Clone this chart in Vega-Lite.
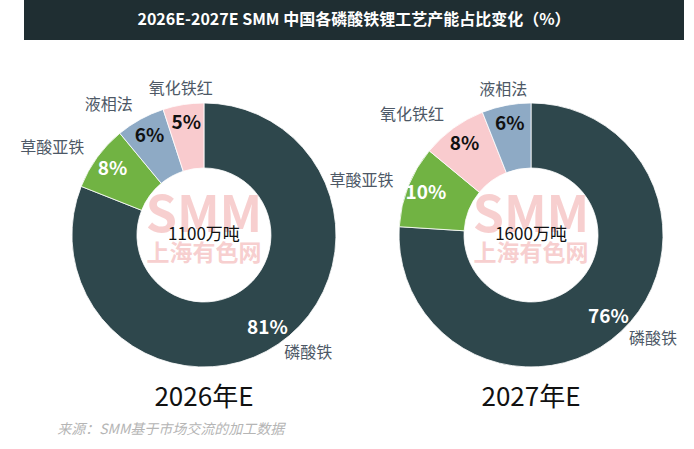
{
  "$schema": "https://vega.github.io/schema/vega-lite/v6.json",
  "background": "#ffffff",
  "padding": {"left": 20, "right": 14, "top": 0, "bottom": 0},
  "spacing": 0,
  "datasets": {
    "shares": [
      {"year": "2026年E", "cat": "磷酸铁", "pct": 81},
      {"year": "2026年E", "cat": "草酸亚铁", "pct": 8},
      {"year": "2026年E", "cat": "液相法", "pct": 6},
      {"year": "2026年E", "cat": "氧化铁红", "pct": 5},
      {"year": "2027年E", "cat": "磷酸铁", "pct": 76},
      {"year": "2027年E", "cat": "草酸亚铁", "pct": 10},
      {"year": "2027年E", "cat": "氧化铁红", "pct": 8},
      {"year": "2027年E", "cat": "液相法", "pct": 6}
    ],
    "totals": [
      {"year": "2026年E", "total": "1100万吨"},
      {"year": "2027年E", "total": "1600万吨"}
    ]
  },
  "title": {
    "text": "来源：SMM基于市场交流的加工数据",
    "orient": "bottom",
    "anchor": "start",
    "dx": 37,
    "offset": 3,
    "font": "Noto Sans CJK SC",
    "fontSize": 14,
    "fontStyle": "italic",
    "fontWeight": "normal",
    "color": "#b5b5b5"
  },
  "vconcat": [
    {
      "width": 660,
      "height": 40,
      "view": {"fill": "#1f2e32", "stroke": null},
      "data": {"values": [{"t": "2026E-2027E SMM 中国各磷酸铁锂工艺产能占比变化（%）"}]},
      "mark": {"type": "text", "color": "#ffffff", "font": "Noto Sans CJK SC", "fontSize": 16, "fontWeight": "bold"},
      "encoding": {"text": {"field": "t"}}
    },
    {
      "width": 660,
      "height": 380,
      "layer": [
        {
          "data": {"name": "shares"},
          "transform": [
            {"stack": "pct", "groupby": ["year"], "as": ["s0", "s1"]}
          ],
          "mark": {"type": "arc", "innerRadius": 67, "outerRadius": 132, "stroke": "#ffffff", "strokeWidth": 0.8},
          "encoding": {
            "x": {"field": "year", "type": "nominal", "scale": {"type": "point", "domain": ["2026年E", "2027年E"], "padding": 0.509, "align": 0.5405}, "axis": null},
            "y": {"datum": "ring", "type": "nominal", "scale": {"type": "point", "domain": ["ring", "label"], "padding": 0.6656, "align": 0.8986}, "axis": null},
            "theta": {"field": "s0", "type": "quantitative", "stack": null, "scale": {"domain": [0, 100]}},
            "theta2": {"field": "s1"},
            "color": {
              "field": "cat",
              "type": "nominal",
              "scale": {"domain": ["磷酸铁", "草酸亚铁", "液相法", "氧化铁红"], "range": ["#2e474c", "#71b343", "#8eaac5", "#f9cbce"]},
              "legend": null
            }
          }
        },
        {
          "data": {"name": "totals"},
          "mark": {"type": "text", "font": "Noto Sans CJK SC", "fontSize": 50, "fontWeight": "bold", "color": "#f2a9a9", "opacity": 0.55, "dy": -18},
          "encoding": {
            "x": {"field": "year", "type": "nominal"},
            "y": {"datum": "ring", "type": "nominal"},
            "text": {"value": "SMM"}
          }
        },
        {
          "data": {"name": "totals"},
          "mark": {"type": "text", "font": "Noto Sans CJK SC", "fontSize": 23, "fontWeight": "bold", "color": "#f2a9a9", "opacity": 0.55, "dy": 19},
          "encoding": {
            "x": {"field": "year", "type": "nominal"},
            "y": {"datum": "ring", "type": "nominal"},
            "text": {"value": "上海有色网"}
          }
        },
        {
          "data": {"name": "totals"},
          "mark": {"type": "text", "font": "Noto Sans CJK SC", "fontSize": 17, "color": "#111111"},
          "encoding": {
            "x": {"field": "year", "type": "nominal"},
            "y": {"datum": "ring", "type": "nominal"},
            "text": {"field": "total"}
          }
        },
        {
          "data": {"name": "totals"},
          "mark": {"type": "text", "font": "Noto Sans CJK SC", "fontSize": 26, "color": "#111111"},
          "encoding": {
            "x": {"field": "year", "type": "nominal"},
            "y": {"datum": "label", "type": "nominal"},
            "text": {"field": "year"}
          }
        },
        {
          "data": {"name": "shares"},
          "transform": [
            {"stack": "pct", "groupby": ["year"], "as": ["s0", "s1"]},
            {"calculate": "(datum.s0 + datum.s1) / 2", "as": "mid"},
            {"calculate": "datum.pct + '%'", "as": "lab"}
          ],
          "mark": {"type": "text", "radius": 113, "font": "Noto Sans CJK SC", "fontSize": 19, "fontWeight": "bold"},
          "encoding": {
            "x": {"field": "year", "type": "nominal"},
            "y": {"datum": "ring", "type": "nominal"},
            "theta": {"field": "mid", "type": "quantitative", "stack": null},
            "text": {"field": "lab"},
            "color": {
              "condition": {"test": "datum.cat === '液相法' || datum.cat === '氧化铁红'", "value": "#111111"},
              "value": "#ffffff"
            }
          }
        },
        {
          "data": {"name": "shares"},
          "transform": [
            {"stack": "pct", "groupby": ["year"], "as": ["s0", "s1"]},
            {"calculate": "(datum.s0 + datum.s1) / 2", "as": "mid"},
            {"filter": "datum.cat === '磷酸铁'"}
          ],
          "mark": {"type": "text", "radius": 143, "align": "left", "font": "Noto Sans CJK SC", "fontSize": 16, "color": "#4d5866"},
          "encoding": {
            "x": {"field": "year", "type": "nominal"},
            "y": {"datum": "ring", "type": "nominal"},
            "theta": {"field": "mid", "type": "quantitative", "stack": null},
            "text": {"field": "cat"}
          }
        },
        {
          "data": {"name": "shares"},
          "transform": [
            {"stack": "pct", "groupby": ["year"], "as": ["s0", "s1"]},
            {"calculate": "(datum.s0 + datum.s1) / 2", "as": "mid"},
            {"filter": "datum.cat !== '磷酸铁' && datum.mid < 94"}
          ],
          "mark": {"type": "text", "radius": 148, "align": "right", "font": "Noto Sans CJK SC", "fontSize": 16, "color": "#4d5866"},
          "encoding": {
            "x": {"field": "year", "type": "nominal"},
            "y": {"datum": "ring", "type": "nominal"},
            "theta": {"field": "mid", "type": "quantitative", "stack": null},
            "text": {"field": "cat"}
          }
        },
        {
          "data": {"name": "shares"},
          "transform": [
            {"stack": "pct", "groupby": ["year"], "as": ["s0", "s1"]},
            {"calculate": "(datum.s0 + datum.s1) / 2", "as": "mid"},
            {"filter": "datum.mid >= 94"}
          ],
          "mark": {"type": "text", "radius": 148, "font": "Noto Sans CJK SC", "fontSize": 16, "color": "#4d5866"},
          "encoding": {
            "x": {"field": "year", "type": "nominal"},
            "y": {"datum": "ring", "type": "nominal"},
            "theta": {"field": "mid", "type": "quantitative", "stack": null},
            "text": {"field": "cat"}
          }
        }
      ]
    }
  ],
  "config": {
    "view": {"stroke": null},
    "font": "Noto Sans CJK SC"
  }
}
